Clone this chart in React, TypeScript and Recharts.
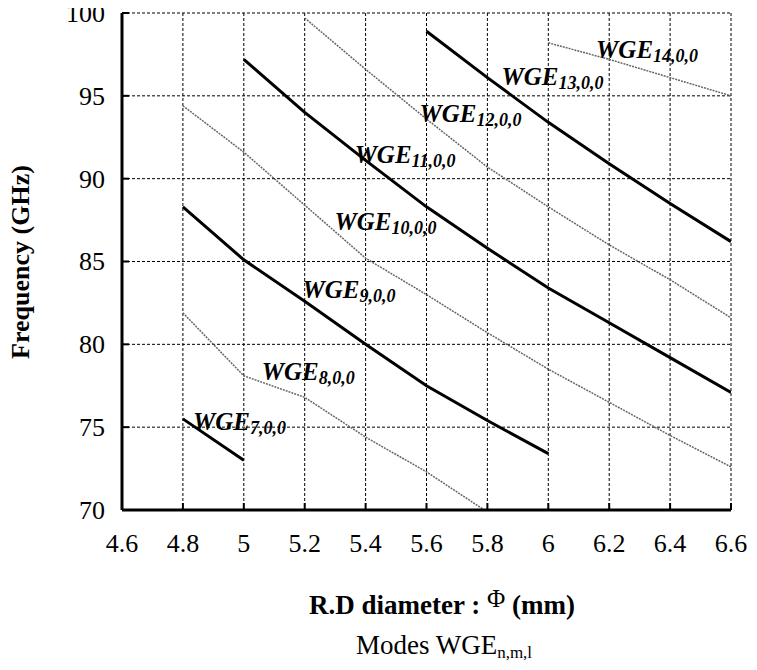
import React from 'react';
import { LineChart, Line, XAxis, YAxis, CartesianGrid, ReferenceDot } from 'recharts';

const xTicks = [4.6, 4.8, 5, 5.2, 5.4, 5.6, 5.8, 6, 6.2, 6.4, 6.6];
const yTicks = [70, 75, 80, 85, 90, 95, 100];

const wge7 = [{ d: 4.8, f: 75.5 }, { d: 5.0, f: 73.0 }];
const wge8 = [{ d: 4.8, f: 81.9 }, { d: 5.0, f: 78.1 }, { d: 5.2, f: 76.8 }, { d: 5.4, f: 74.4 }, { d: 5.6, f: 72.3 }, { d: 5.79, f: 70.0 }];
const wge9 = [{ d: 4.8, f: 88.3 }, { d: 5.0, f: 85.1 }, { d: 5.2, f: 82.6 }, { d: 5.4, f: 80.0 }, { d: 5.6, f: 77.5 }, { d: 5.8, f: 75.4 }, { d: 6.0, f: 73.4 }];
const wge10 = [{ d: 4.8, f: 94.4 }, { d: 5.0, f: 91.6 }, { d: 5.2, f: 88.4 }, { d: 5.4, f: 85.2 }, { d: 5.6, f: 83.0 }, { d: 5.8, f: 80.7 }, { d: 6.0, f: 78.5 }, { d: 6.2, f: 76.5 }, { d: 6.4, f: 74.5 }, { d: 6.6, f: 72.6 }];
const wge11 = [{ d: 5.0, f: 97.2 }, { d: 5.2, f: 94.0 }, { d: 5.4, f: 91.1 }, { d: 5.6, f: 88.3 }, { d: 5.8, f: 85.8 }, { d: 6.0, f: 83.4 }, { d: 6.2, f: 81.3 }, { d: 6.4, f: 79.2 }, { d: 6.6, f: 77.1 }];
const wge12 = [{ d: 5.2, f: 99.7 }, { d: 5.4, f: 96.6 }, { d: 5.6, f: 93.6 }, { d: 5.8, f: 90.7 }, { d: 6.0, f: 88.3 }, { d: 6.2, f: 86.0 }, { d: 6.4, f: 83.9 }, { d: 6.6, f: 81.6 }];
const wge13 = [{ d: 5.6, f: 98.9 }, { d: 5.8, f: 96.1 }, { d: 6.0, f: 93.4 }, { d: 6.2, f: 90.9 }, { d: 6.4, f: 88.5 }, { d: 6.6, f: 86.2 }];
const wge14 = [{ d: 6.0, f: 98.2 }, { d: 6.2, f: 97.2 }, { d: 6.4, f: 96.1 }, { d: 6.6, f: 95.0 }];

const series = [
  { id: 'wge7', data: wge7, thick: true },
  { id: 'wge8', data: wge8, thick: false },
  { id: 'wge9', data: wge9, thick: true },
  { id: 'wge10', data: wge10, thick: false },
  { id: 'wge11', data: wge11, thick: true },
  { id: 'wge12', data: wge12, thick: false },
  { id: 'wge13', data: wge13, thick: true },
  { id: 'wge14', data: wge14, thick: false },
];

const modeLabels = [
  { sub: '7,0,0', d: 4.833, f: 74.83 },
  { sub: '8,0,0', d: 5.059, f: 77.85 },
  { sub: '9,0,0', d: 5.193, f: 82.8 },
  { sub: '10,0,0', d: 5.298, f: 86.9 },
  { sub: '11,0,0', d: 5.364, f: 90.95 },
  { sub: '12,0,0', d: 5.577, f: 93.4 },
  { sub: '13,0,0', d: 5.846, f: 95.65 },
  { sub: '14,0,0', d: 6.157, f: 97.28 },
];

const FONT = '"Liberation Serif", "Times New Roman", Times, serif';

const XTick = (props: any) => {
  const { x, y, payload } = props;
  return (
    <text x={x} y={y} textAnchor="middle" fill="#000" fontFamily="Liberation Serif" style={{ fontFamily: FONT, fontSize: 26 }}>
      {payload.value}
    </text>
  );
};

const YTick = (props: any) => {
  const { x, y, payload } = props;
  return (
    <text x={x} y={y} dy="0.34em" textAnchor="end" fill="#000" fontFamily="Liberation Serif" style={{ fontFamily: FONT, fontSize: 26 }}>
      {payload.value}
    </text>
  );
};

const makeModeShape = (sub: string) => (p: any) => (
  <text x={p.cx} y={p.cy} fill="#000" style={{ fontFamily: FONT, fontStyle: 'italic', fontWeight: 'bold', fontSize: 25 }}>
    <tspan>WGE</tspan>
    <tspan dy={4} style={{ fontSize: 18 }}>{sub}</tspan>
  </text>
);

export default function App() {
  return (
    <div style={{ position: 'relative', width: 749, height: 670, marginTop: -8, fontFamily: FONT }}>
      <LineChart width={749} height={670} margin={{ top: 13, right: 26, left: 0, bottom: 120 }}>
        <CartesianGrid stroke="#000" strokeDasharray="3 2" strokeWidth={1} />
        <XAxis
          type="number"
          dataKey="d"
          domain={[4.6, 6.6]}
          ticks={xTicks}
          height={40}
          axisLine={{ stroke: '#000', strokeWidth: 3 }}
          tickLine={{ stroke: '#000', strokeWidth: 2 }}
          tickSize={-7}
          tickMargin={49}
          tick={(p: any) => <XTick {...p} />}
          interval={0}
          allowDataOverflow
        />
        <XAxis
          xAxisId="t"
          orientation="top"
          type="number"
          dataKey="d"
          domain={[4.6, 6.6]}
          ticks={xTicks}
          height={0}
          axisLine={{ stroke: '#000', strokeWidth: 3 }}
          tickLine={{ stroke: '#000', strokeWidth: 2 }}
          tickSize={-7}
          tick={false}
          interval={0}
        />
        <YAxis
          type="number"
          domain={[70, 100]}
          ticks={yTicks}
          width={114}
          axisLine={{ stroke: '#000', strokeWidth: 3 }}
          tickLine={{ stroke: '#000', strokeWidth: 2 }}
          tickSize={-7}
          tickMargin={24}
          tick={(p: any) => <YTick {...p} />}
          interval={0}
          allowDataOverflow
        />
        <YAxis
          yAxisId="r"
          orientation="right"
          type="number"
          domain={[70, 100]}
          ticks={yTicks}
          width={0}
          axisLine={{ stroke: '#000', strokeWidth: 3 }}
          tickLine={{ stroke: '#000', strokeWidth: 2 }}
          tickSize={-7}
          tick={false}
          interval={0}
        />
        {series.map((s) => (
          <Line
            key={s.id}
            data={s.data}
            dataKey="f"
            type="linear"
            stroke={s.thick ? '#000' : '#666'}
            strokeWidth={s.thick ? 3 : 1.5}
            strokeDasharray={s.thick ? undefined : '2 1'}
            dot={false}
            activeDot={false}
            isAnimationActive={false}
          />
        ))}
        {modeLabels.map((m) => (
          <ReferenceDot key={m.sub} x={m.d} y={m.f} r={0} shape={makeModeShape(m.sub)} />
        ))}
      </LineChart>
      <div
        style={{
          position: 'absolute', left: 13, top: 262, transform: 'translate(-50%, -50%) rotate(-90deg)',
          whiteSpace: 'nowrap', fontWeight: 'bold', fontSize: 26, lineHeight: 1,
        }}
      >
        Frequency (GHz)
      </div>
      <div
        style={{
          position: 'absolute', left: 434, top: 605, transform: 'translate(-50%, -50%)',
          whiteSpace: 'nowrap', fontWeight: 'bold', fontSize: 27, lineHeight: 1,
        }}
      >
        R.D diameter : <span style={{ fontWeight: 'normal', fontSize: 25, position: 'relative', top: -7 }}>Φ</span> (mm)
      </div>
      <div
        style={{
          position: 'absolute', left: 436, top: 645, transform: 'translate(-50%, -50%)',
          whiteSpace: 'nowrap', fontSize: 27, lineHeight: 1,
        }}
      >
        Modes WGE<span style={{ fontSize: 17, position: 'relative', top: 4 }}>n,m,l</span>
      </div>
    </div>
  );
}
